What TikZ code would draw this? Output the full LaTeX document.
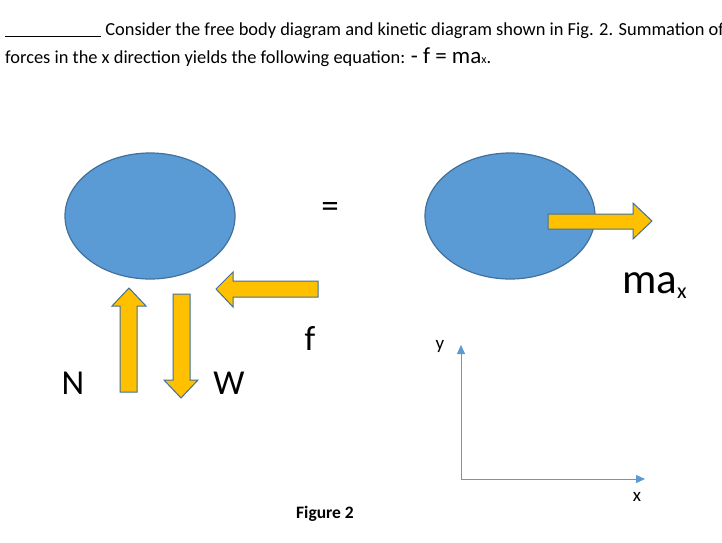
\documentclass[tikz,border=0pt]{standalone}
\usepackage{fontspec}
\setmainfont{Carlito}
\usetikzlibrary{arrows.meta}

\begin{document}
\begin{tikzpicture}[x=1pt,y=-1pt,>=Stealth,line join=miter,body/.style={fill=bodycolor,draw=edgecolor,line width=1.2pt},force arrow/.style={fill=forcecolor,draw=edgecolor,line width=1pt},axis line/.style={draw=axiscolor,line width=0.9pt,-{Triangle[length=9pt,width=8pt]}},big label/.style={font=\fontsize{35}{38}\selectfont,inner sep=0pt},small label/.style={font=\fontsize{19}{22}\selectfont,inner sep=0pt},body text/.style={anchor=base west,inner sep=0pt,font=\fontsize{18.4}{22}\selectfont}]
 \definecolor{bodycolor}{HTML}{5B9BD5}
 \definecolor{edgecolor}{HTML}{41719C}
 \definecolor{forcecolor}{HTML}{FFC000}
 \definecolor{axiscolor}{HTML}{5B9BD5}

 \useasboundingbox[fill=white] (0,0) rectangle (722,542);

 % question text
 \node[body text] (line one) at (5,35)
    {\rule[-2pt]{96pt}{0.7pt}\ Consider the free body diagram and kinetic diagram shown in Fig. 2. Summation of};
 \node[body text] (line two) at (5,63)
    {forces in the x direction yields the following equation: {\fontsize{23}{24}\selectfont - f = ma}{\fontsize{12}{14}\selectfont x}.};

 % free body diagram
 \draw[body] (150,216) ellipse [x radius=85,y radius=63];
 \filldraw[force arrow] (120,392) -- (120,306) -- (112,306) -- (129,288) -- (146,306) -- (137,306) -- (137,392) -- cycle;
 \filldraw[force arrow] (173,294) -- (190,294) -- (190,380) -- (198,380) -- (181,398) -- (164,380) -- (173,380) -- cycle;
 \filldraw[force arrow] (318,281) -- (233,281) -- (233,272) -- (216,289) -- (233,307) -- (233,297) -- (318,297) -- cycle;
 \node[big label] (N) at (73,383) {N};
 \node[big label] (W) at (229,383) {W};
 \node[big label] (f) at (310,338) {f};

 \node[big label] (equals) at (330,210) {=};

 % kinetic diagram
 \draw[body] (510,216) ellipse [x radius=85,y radius=63];
 \filldraw[force arrow] (548,214) -- (633,214) -- (633,203) -- (652,221) -- (633,239) -- (633,229) -- (548,229) -- cycle;
 \node[anchor=base west,inner sep=0pt,font=\fontsize{43}{46}\selectfont] (ma) at (622,293) {ma\raisebox{-5pt}{\fontsize{22}{24}\selectfont x}};

 % axes
 \coordinate (origin) at (461,479);
 \coordinate (y tip) at (461,345);
 \coordinate (x tip) at (645,479);
 \draw[axis line] (origin) -- (y tip);
 \draw[axis line] (origin) -- (x tip);
 \node[small label] (y label) at (440,346) {y};
 \node[small label] (x label) at (637,497) {x};

 \node[inner sep=0pt,font=\fontsize{17.5}{20}\selectfont\bfseries] (caption) at (325,514) {Figure 2};
\end{tikzpicture}
\end{document}
